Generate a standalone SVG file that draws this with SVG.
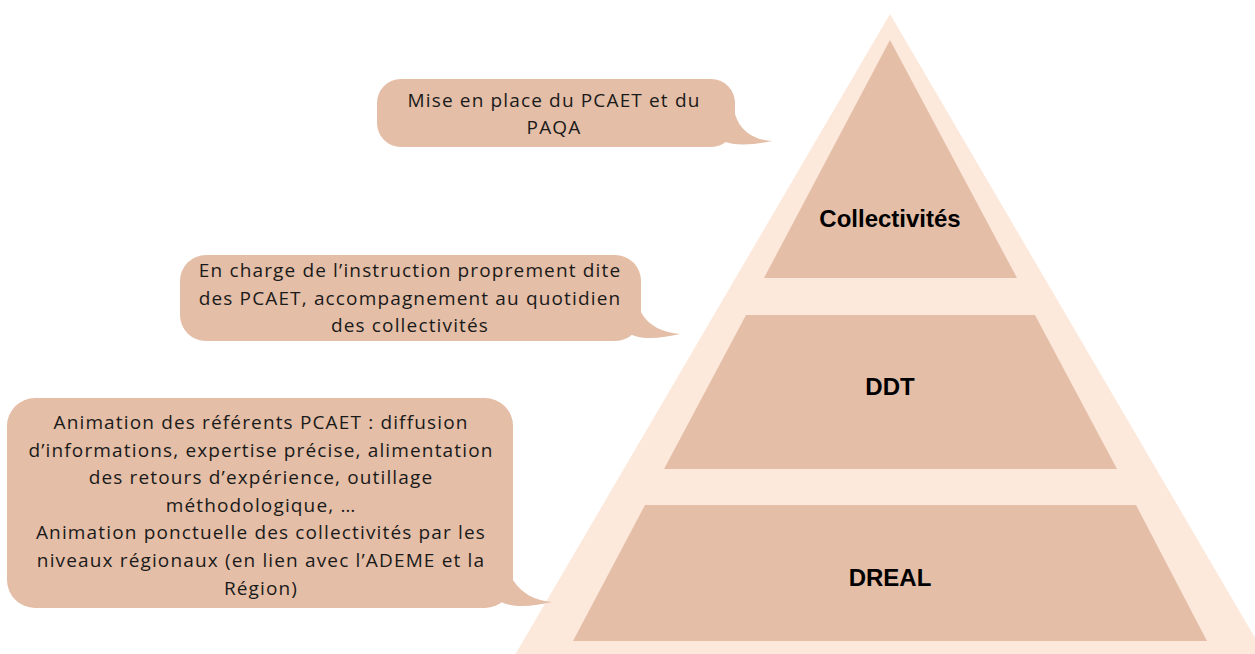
<svg xmlns="http://www.w3.org/2000/svg" width="1255" height="654" viewBox="0 0 1255 654">
  <style>
    .tier { fill: #E4BEA7; }
    .frame { fill: #FCE9DC; }
    .bubble { fill: #E4BEA7; }
    .lbl { font-family: "Liberation Sans", Arial, sans-serif; font-weight: bold; font-size: 24px; fill: #000; text-anchor: middle; }
    .txt { font-family: "Open Sans", "Noto Sans", sans-serif; font-size: 19px; letter-spacing: 1.15px; fill: #1a1a1a; text-anchor: middle; }
  </style>
  <rect width="1255" height="654" fill="#FFFFFF"/>
  <g id="pyramid-frame">
    <polygon class="frame" points="890,14 1268,660 512,660"/>
  </g>
  <g id="tier-collectivites">
    <polygon class="tier" points="890,40 1017,278 764,278"/>
    <text class="lbl" x="890" y="227">Collectivités</text>
  </g>
  <g id="tier-ddt">
    <polygon class="tier" points="746,315 1035,315 1117,469 664,469"/>
    <text class="lbl" x="890" y="395">DDT</text>
  </g>
  <g id="tier-dreal">
    <polygon class="tier" points="645,505 1136,505 1207,641 573,641"/>
    <text class="lbl" x="890" y="586">DREAL</text>
  </g>
  <g id="bubble-collectivites">
    <rect class="bubble" x="377" y="79" width="358" height="68" rx="24"/>
    <path class="bubble" d="M 735,100 L 735,114 C 740,132 755,140 772,141 C 756,144 738,147 722,141 L 710,130 Z"/>
    <text class="txt" x="554" y="107">Mise en place du PCAET et du</text>
    <text class="txt" x="554" y="134">PAQA</text>
  </g>
  <g id="bubble-ddt">
    <rect class="bubble" x="180" y="255" width="461" height="86" rx="26"/>
    <path class="bubble" d="M 641,295 L 641,312 C 648,326 664,333 680,334 C 664,337 648,341 632,335 L 615,320 Z"/>
    <text class="txt" x="410" y="277">En charge de l’instruction proprement dite</text>
    <text class="txt" x="410" y="305">des PCAET, accompagnement au quotidien</text>
    <text class="txt" x="410" y="332">des collectivités</text>
  </g>
  <g id="bubble-dreal">
    <rect class="bubble" x="7" y="398" width="506" height="210" rx="28"/>
    <path class="bubble" d="M 513,560 L 513,580 C 522,594 536,601 552,602 C 536,605 520,609 503,603 L 485,585 Z"/>
    <text class="txt" x="261" y="429">Animation des référents PCAET : diffusion</text>
    <text class="txt" x="261" y="457">d’informations, expertise précise, alimentation</text>
    <text class="txt" x="261" y="484">des retours d’expérience, outillage</text>
    <text class="txt" x="261" y="512">méthodologique, …</text>
    <text class="txt" x="261" y="539">Animation ponctuelle des collectivités par les</text>
    <text class="txt" x="261" y="567">niveaux régionaux (en lien avec l’ADEME et la</text>
    <text class="txt" x="261" y="595">Région)</text>
  </g>
</svg>
